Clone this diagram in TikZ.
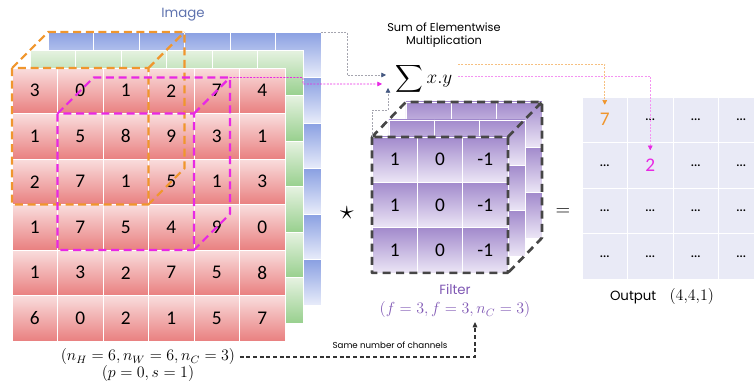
\documentclass[tikz,border=0pt]{standalone}
\usepackage{amsmath}
\usepackage[no-math]{fontspec}
\setmainfont{Carlito}
\newfontfamily\gothfont{Poppins}
\usepackage{xcolor}
\usepackage{tikz}
\usetikzlibrary{arrows.meta, positioning, calc}

\definecolor{redtop}{RGB}{249,221,221}
\definecolor{redbot}{RGB}{233,128,128}
\definecolor{greentop}{RGB}{230,242,225}
\definecolor{greenbot}{RGB}{152,208,142}
\definecolor{bluetop}{RGB}{138,160,226}
\definecolor{bluebot}{RGB}{232,236,250}
\definecolor{purptop}{RGB}{162,138,204}
\definecolor{purpbot}{RGB}{236,230,246}
\definecolor{outfill}{RGB}{233,234,246}
\definecolor{imgorange}{RGB}{240,150,45}
\definecolor{imgmagenta}{RGB}{232,40,228}
\definecolor{imgtitle}{RGB}{95,115,175}
\definecolor{fltpurple}{RGB}{128,88,180}
\definecolor{fltedge}{RGB}{70,70,70}
\definecolor{linkgray}{RGB}{165,165,175}
\definecolor{linktip}{RGB}{70,90,130}

\newcommand{\odots}{\textbf{\fontsize{9}{10}\selectfont...}}
\newcommand{\oseven}{\textcolor{imgorange}{7}}
\newcommand{\otwo}{\textcolor{imgmagenta}{2}}

\tikzset{
  cell/.style={draw=white, line width=0.6pt, inner sep=0pt, outer sep=0pt, minimum width=34.1pt, minimum height=34.1pt, font=\fontsize{14.5}{16}\selectfont},
  redcell/.style={cell, top color=redtop, bottom color=redbot},
  greencell/.style={cell, top color=greentop, bottom color=greenbot},
  bluecell/.style={cell, top color=bluetop, bottom color=bluebot},
  fltcell/.style={cell, minimum width=34pt, minimum height=34pt, top color=purptop, bottom color=purpbot},
  outcell/.style={cell, fill=outfill},
  window/.style={line width=1.6pt, dash pattern=on 6pt off 3.5pt, line join=round},
  link/.style={line width=0.5pt, dash pattern=on 1.5pt off 1pt},
  headed/.style={-{Triangle[length=3.5pt, width=3.5pt, #1]}},
  headed/.default={},
  samech/.style={-{Triangle[length=4pt, width=3.5pt]}, line width=0.8pt, dash pattern=on 3pt off 2pt, black!80},
  titletext/.style={font=\gothfont\fontsize{10}{12}\selectfont},
  note/.style={align=center, inner sep=0.5pt, font=\gothfont\fontsize{8.5}{9.5}\selectfont},
  mathtext/.style={font=\fontsize{11.5}{13}\selectfont}
}

\begin{document}
\begin{tikzpicture}[x=0.75pt, y=-0.75pt]
    \useasboundingbox (0,0) rectangle (754,384);

    % image: blue, green and red channels
    \foreach \j in {0,...,5} {
      \foreach \i in {0,...,5} {
        \node[bluecell] (b-\j-\i) at ({48+45.5*(\i+0.5)},{32+45.5*(\j+0.5)}) {};
      }
    }
    \foreach \j in {0,...,5} {
      \foreach \i in {0,...,5} {
        \node[greencell] (g-\j-\i) at ({30+45.5*(\i+0.5)},{50+45.5*(\j+0.5)}) {};
      }
    }
    \foreach \row [count=\j from 0] in {{3,0,1,2,7,4},{1,5,8,9,3,1},{2,7,1,5,1,3},{1,7,5,4,9,0},{1,3,2,7,5,8},{6,0,2,1,5,7}} {
      \foreach \v [count=\i from 0] in \row {
        \node[redcell] (r-\j-\i) at ({12+45.5*(\i+0.5)},{68+45.5*(\j+0.5)}) {\v};
      }
    }

    % receptive fields
    \draw[window, imgorange] (r-0-0.north west) rectangle (r-2-2.south east)
      (r-0-0.north west) -- (b-0-0.north west) -- (b-0-2.north east) -- (b-2-2.south east) -- (r-2-2.south east)
      (r-0-2.north east) -- (b-0-2.north east);
    \draw[window, imgmagenta] (r-1-1.north west) rectangle (r-3-3.south east)
      (r-1-1.north west) -- (b-1-1.north west) -- (b-1-3.north east) -- (b-3-3.south east) -- (r-3-3.south east)
      (r-1-3.north east) -- (b-1-3.north east);

    % filter
    \foreach \j in {0,...,2} {
      \foreach \i in {0,...,2} {
        \node[fltcell] (fb-\j-\i) at ({406+45.3*(\i+0.5)},{102+45.3*(\j+0.5)}) {};
      }
    }
    \foreach \j in {0,...,2} {
      \foreach \i in {0,...,2} {
        \node[fltcell] (fm-\j-\i) at ({389+45.3*(\i+0.5)},{120+45.3*(\j+0.5)}) {};
      }
    }
    \foreach \j in {0,...,2} {
      \foreach \v [count=\i from 0] in {1,0,-1} {
        \node[fltcell] (f-\j-\i) at ({372+45.3*(\i+0.5)},{137+45.3*(\j+0.5)}) {\v};
      }
    }
    \draw[window, fltedge, line width=2pt, dash pattern=on 6pt off 4pt] (f-0-0.north west) rectangle (f-2-2.south east)
      (f-0-0.north west) -- (fb-0-0.north west) -- (fb-0-2.north east) -- (fb-2-2.south east) -- (f-2-2.south east)
      (f-0-2.north east) -- (fb-0-2.north east);

    % output
    \begin{scope}
      \clip (0,0) rectangle (754,384);
      \foreach \row [count=\j from 0] in {{\oseven,\odots,\odots,\odots},{\odots,\otwo,\odots,\odots},{\odots,\odots,\odots,\odots},{\odots,\odots,\odots,\odots}} {
        \foreach \v [count=\i from 0] in \row {
          \node[outcell] (o-\j-\i) at ({582+45.5*(\i+0.5)},{97+45.5*(\j+0.5)}) {\v};
        }
      }
    \end{scope}

    % labels
    \node[titletext, imgtitle] (imgL) at (183,15) {Image};
    \node[note] (sumL) at (444,35) {Sum of Elementwise\\Multiplication};
    \node[font=\fontsize{14}{15}\selectfont, inner sep=0pt] (sum) at (424,79) {$\displaystyle\sum x.y$};
    \node[font=\fontsize{20}{22}\selectfont] (star) at (347,213) {$\star$};
    \node[font=\fontsize{14}{16}\selectfont] (eq) at (563,212) {$=$};
    \node[titletext, fltpurple] (fltL) at (455,289) {Filter};
    \node[mathtext, fltpurple] (fltD) at (455,310) {$(f = 3, f = 3, n_C = 3)$};
    \node[titletext] (outL) at (662,297) {Output\quad{\fontsize{11.5}{13}\selectfont$(4{,}4{,}1)$}};
    \node[mathtext] (imgD) at (148,357) {$(n_H = 6, n_W = 6, n_C = 3)$};
    \node[mathtext] (imgP) at (148,374) {$(p = 0, s = 1)$};
    \node[note, font=\gothfont\fontsize{6.5}{8}\selectfont] (sameL) at (390,345) {Same number of channels};

    % connectors
    \coordinate (inB) at (386,75);
    \coordinate (inM) at (382,84);
    \coordinate (inF) at (388,88);
    \coordinate (outO) at (458,64);
    \coordinate (outM) at (458,76);
    \coordinate (ncIn) at (475,322);
    \draw[link, linkgray, headed={color=linktip}] (b-0-5.north east) -- ++(26,0) |- (inB);
    \draw[link, imgmagenta, headed] (b-1-3.north east) -- ++(73,0) -- ++(0,6.5) -- (inM);
    \draw[link, linkgray, headed={color=linktip}] (f-0-0.north west) -- ++(0,-27) -| (inF);
    \draw[link, imgorange!60, headed={color=imgorange}] (outO) -| ($(o-0-0.center)+(0,-15)$);
    \draw[link, imgmagenta!50, headed={color=imgmagenta}] (outM) -| ($(o-1-1.center)+(0,-15)$);
    \draw[samech] (imgD.east) -| (ncIn);
\end{tikzpicture}
\end{document}
